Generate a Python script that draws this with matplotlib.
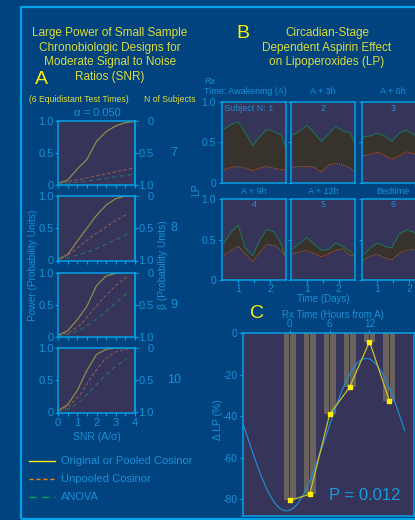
import matplotlib
matplotlib.use('Agg')
import matplotlib.pyplot as plt
from matplotlib.lines import Line2D
from matplotlib.patches import Rectangle
import numpy as np

plt.rcParams['font.family'] = ['Liberation Sans', 'DejaVu Sans']
plt.rcParams['axes.unicode_minus'] = False

# ---------------- data ----------------
# Panel A: power curves
snr = [0, 0.5, 1.0, 1.5, 2.0, 2.5, 3.0, 3.5, 4.0]
snr_dash7 = [0, 0.8, 1.6, 2.4, 3.2, 4.0]
snr_dash = [0, 0.6, 1.2, 1.8, 2.4, 3.0, 3.6]
n_subjects = ['7', '8', '9', '10']
orig_power = [
    [0.03, 0.08, 0.25, 0.40, 0.68, 0.83, 0.92, 0.97, 0.99],
    [0.02, 0.09, 0.30, 0.50, 0.70, 0.86, 0.96, 1.00, 1.00],
    [0.03, 0.10, 0.27, 0.48, 0.80, 0.95, 0.99, 1.00, 1.00],
    [0.03, 0.12, 0.34, 0.65, 0.90, 0.98, 1.00, 1.00, 1.00],
]
unpooled_power = [
    [0.03, 0.07, 0.12, 0.17, 0.22, 0.27],
    [0.02, 0.10, 0.24, 0.38, 0.50, 0.62, 0.72],
    [0.02, 0.08, 0.20, 0.42, 0.62, 0.80, 0.94],
    [0.03, 0.10, 0.30, 0.58, 0.82, 0.94, 0.98],
]
anova_power = [
    [0.02, 0.04, 0.07, 0.10, 0.14, 0.17],
    [0.01, 0.05, 0.10, 0.16, 0.24, 0.32, 0.41],
    [0.02, 0.05, 0.12, 0.24, 0.37, 0.53, 0.69],
    [0.02, 0.06, 0.18, 0.37, 0.56, 0.72, 0.84],
]

# Panel B: LP profiles
days = [0.55, 0.78, 1.0, 1.22, 1.45, 1.68, 1.9, 2.12, 2.35, 2.5]
rx_titles = ['Time: Awakening (A)', 'A + 3h', 'A + 6h', 'A + 9h', 'A + 12h', 'Bedtime']
subject_labels = ['Subject N: 1', '2', '3', '4', '5', '6']
lp_upper = [
    [0.66, 0.72, 0.75, 0.62, 0.46, 0.57, 0.66, 0.63, 0.59, 0.42],
    [0.59, 0.64, 0.71, 0.62, 0.51, 0.60, 0.70, 0.64, 0.62, 0.49],
    [0.56, 0.58, 0.61, 0.58, 0.51, 0.61, 0.65, 0.60, 0.55, 0.50],
    [0.46, 0.60, 0.68, 0.40, 0.30, 0.50, 0.63, 0.60, 0.45, 0.28],
    [0.39, 0.46, 0.53, 0.45, 0.37, 0.38, 0.46, 0.42, 0.36, 0.30],
    [0.31, 0.40, 0.46, 0.42, 0.40, 0.57, 0.62, 0.60, 0.52, 0.45],
]
lp_lower = [
    [0.16, 0.19, 0.20, 0.18, 0.15, 0.18, 0.20, 0.18, 0.16, 0.15],
    [0.19, 0.20, 0.20, 0.19, 0.13, 0.22, 0.24, 0.22, 0.18, 0.14],
    [0.33, 0.35, 0.38, 0.34, 0.29, 0.33, 0.38, 0.36, 0.34, 0.33],
    [0.31, 0.37, 0.42, 0.33, 0.23, 0.35, 0.44, 0.43, 0.37, 0.28],
    [0.33, 0.35, 0.37, 0.33, 0.29, 0.33, 0.37, 0.39, 0.31, 0.30],
    [0.25, 0.30, 0.32, 0.28, 0.25, 0.33, 0.37, 0.38, 0.33, 0.30],
]

# Panel C: change in LP by Rx time
rx_hours = [0, 3, 6, 9, 12, 15]
delta_lp = [-80.5, -77.5, -39.0, -26.0, -4.0, -32.5]
cos_mesor, cos_amp, cos_acro, cos_period = -48.8, 36.7, 11.5, 24.0

# ---------------- style ----------------
W, H = 415, 520
BG = '#00437f'
EDGE = '#00a2e8'
TXT = '#1a8fd6'
YEL_T = '#dcdc3c'
YEL = '#fff000'
FACE = '#37345a'

fig = plt.figure(figsize=(W / 100, H / 100), dpi=100, facecolor=BG)


def rect(l, t, w, h):
    return [l / W, 1 - (t + h) / H, w / W, h / H]


def ftext(x, y, s, **kw):
    kw.setdefault('va', 'center')
    kw.setdefault('ha', 'center')
    kw.setdefault('color', TXT)
    fig.text(x / W, 1 - y / H, s, **kw)


def style_ax(ax):
    ax.set_facecolor(FACE)
    for sp in ax.spines.values():
        sp.set_color(EDGE)
        sp.set_linewidth(1.1)
    ax.tick_params(which='both', colors=EDGE, labelcolor=TXT, direction='out',
                   width=0.8)


# outer frame
fig.add_artist(Rectangle((21 / W, 1 - 519 / H), 440 / W, 512 / H,
                         transform=fig.transFigure, fill=False, ec=EDGE, lw=1.6))

# ---------------- Panel A ----------------
for i, t in enumerate(['Large Power of Small Sample', 'Chronobiologic Designs for',
                       'Moderate Signal to Noise', 'Ratios (SNR)']):
    ftext(110, 32.7 + 14.8 * i, t, color=YEL_T, fontsize=8.5)
ftext(41, 80, 'A', color=YEL, fontsize=14)
ftext(79, 100, '(6 Equidistant Test Times)', color=YEL_T, fontsize=6.2)
ftext(170, 100, 'N of Subjects', color=YEL_T, fontsize=6.2)
ftext(97, 113, 'α = 0.050', fontsize=8)

a_tops = [120.7, 196.0, 272.7, 348.0]
for i in range(4):
    ax = fig.add_axes(rect(58, a_tops[i], 77, 64.5))
    style_ax(ax)
    dx = snr_dash7 if i == 0 else snr_dash
    ax.plot(snr, orig_power[i], color='#8c8c48', lw=0.9)
    ax.plot(dx, unpooled_power[i], color='#8c5a52', lw=0.8, ls=(0, (3, 2)))
    ax.plot(dx, anova_power[i], color='#2a6e6c', lw=0.8, ls=(0, (4, 3)))
    ax.set_xlim(0, 4)
    ax.set_ylim(0, 1)
    ax.set_yticks([0, 0.5, 1])
    ax.set_yticklabels(['0', '0.5', '1.0'])
    ax.set_xticks([0, 1, 2, 3, 4])
    ax.set_xticks([0.5, 1.5, 2.5, 3.5], minor=True)
    ax.tick_params(axis='y', length=2, pad=1, labelsize=8)
    ax.tick_params(axis='x', which='both', length=2.5, pad=1.5, labelsize=8)
    if i < 3:
        ax.set_xticklabels([])
    sec = ax.secondary_yaxis('right', functions=(lambda y: 1 - y, lambda y: 1 - y))
    sec.set_yticks([0, 0.5, 1])
    sec.set_yticklabels(['0', '0.5', '1.0'])
    sec.spines['right'].set_color(EDGE)
    sec.spines['right'].set_linewidth(1.1)
    sec.tick_params(colors=EDGE, labelcolor=TXT, length=2, width=0.8, pad=11.5,
                    labelsize=8)
    for lab in sec.get_yticklabels():
        lab.set_horizontalalignment('right')
    ftext(174, a_tops[i] + 32, n_subjects[i], fontsize=9)

ftext(97, 437, 'SNR (A/σ)', fontsize=7.5)
ftext(33, 265, 'Power (Probability Units)', fontsize=7.3, rotation=90)
ftext(163, 265, 'β (Probability Units)', fontsize=7.3, rotation=90)

# legend
leg = [('Original or Pooled Cosinor', '#fff000', '-'),
       ('Unpooled Cosinor', '#ff8000', (0, (3, 2))),
       ('ANOVA', '#00a850', (0, (5, 4)))]
for k, (lab, col, ls) in enumerate(leg):
    yy = 461 + 18 * k
    fig.add_artist(Line2D([29 / W, 55 / W], [1 - yy / H] * 2, color=col, lw=1.0,
                          ls=ls, transform=fig.transFigure))
    ftext(61, yy, lab, ha='left', fontsize=8)

# ---------------- Panel B ----------------
ftext(243, 33, 'B', color=YEL, fontsize=14)
for i, t in enumerate(['Circadian-Stage', 'Dependent Aspirin Effect', 'on Lipoperoxides (LP)']):
    ftext(327, 33.3 + 14.5 * i, t, color=YEL_T, fontsize=8.5)

b_lefts = [222.3, 291.0, 361.5]
b_tops = [101.7, 199.3]
for k in range(6):
    r, c = divmod(k, 3)
    ax = fig.add_axes(rect(b_lefts[c], b_tops[r], 63.7, 81))
    style_ax(ax)
    ax.fill_between(days, lp_lower[k], lp_upper[k], color='#38322c', lw=0)
    ax.plot(days, lp_upper[k], color='#1d7055', lw=0.8)
    ax.plot(days, lp_lower[k], color='#a85c3a', lw=0.8, ls=(0, (1, 1)))
    ax.set_xlim(0.5, 2.5)
    ax.set_ylim(0, 1)
    ax.set_yticks([0, 0.5, 1])
    if c == 0:
        ax.set_yticklabels(['0', '0.5', '1.0'])
    else:
        ax.set_yticklabels([])
    ax.tick_params(axis='y', length=2.5, pad=2, labelsize=7.5)
    if r == 1:
        ax.set_xticks([1, 2])
        ax.set_xticks([1.5], minor=True)
        ax.tick_params(axis='x', which='both', length=2, pad=0.8, labelsize=7.5)
    else:
        ax.set_xticks([])
    cx = b_lefts[c] + 31.85
    ty = 91.7 if r == 0 else 191.7
    sy = 108.3 if r == 0 else 205
    if k == 0:
        ftext(204, ty, rx_titles[k], ha='left', fontsize=6.5)
        ftext(204, 82, 'Rx', ha='left', fontsize=6.5)
        ftext(224, sy, subject_labels[k], ha='left', fontsize=6.5)
    else:
        ftext(cx, ty, rx_titles[k], fontsize=6.5)
        ftext(cx, sy, subject_labels[k], fontsize=6.5)

ftext(196, 190, 'LP', fontsize=7.5, rotation=90)
ftext(323, 298.5, 'Time (Days)', fontsize=7)

# ---------------- Panel C ----------------
axc = fig.add_axes(rect(243.3, 333.3, 170.7, 182.7))
style_ax(axc)
hrs = np.array(rx_hours, dtype=float)
axc.bar(hrs - 0.5, delta_lp, width=0.8, color='#6a625e', lw=0)
axc.bar(hrs + 0.5, delta_lp, width=0.8, color='#6a625e', lw=0)
tt = np.linspace(-7, 17.3, 300)
axc.plot(tt, cos_mesor + cos_amp * np.cos(2 * np.pi * (tt - cos_acro) / cos_period),
         color='#1c8ad0', lw=0.9)
axc.plot(rx_hours, delta_lp, color='#c8c030', lw=0.9)
axc.plot(rx_hours, delta_lp, ls='none', marker='s', ms=2.5, color=YEL, mec=YEL)
axc.set_xlim(-7, 18.7)
axc.set_ylim(-88, 0)
axc.xaxis.tick_top()
axc.set_xticks([0, 6, 12])
axc.set_yticks([-80, -60, -40, -20, 0])
axc.tick_params(axis='x', length=2, pad=0.8, labelsize=7.2)
axc.tick_params(axis='y', length=2.5, pad=1.5, labelsize=7.5)

ftext(257, 314, 'C', color=YEL, fontsize=14)
ftext(333, 314.5, 'Rx Time (Hours from A)', fontsize=7)
ftext(218, 420, 'Δ LP (%)', fontsize=7.5, rotation=90)
ftext(365, 495, 'P = 0.012', fontsize=12, color='#1a9ae0')

fig.savefig('out.png', dpi=100, facecolor=BG)
